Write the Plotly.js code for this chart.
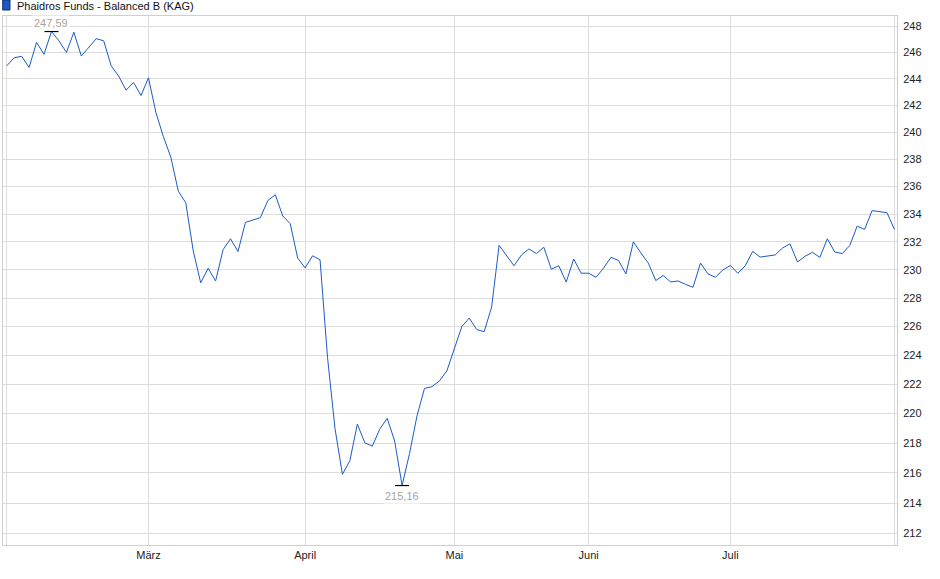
<!DOCTYPE html>
<html>
<head>
<meta charset="utf-8">
<script src="https://cdn.plot.ly/plotly-3.0.1.min.js"></script>
<style>
  html, body { margin: 0; padding: 0; background: #fff; }
  #chart { width: 940px; height: 579px; }
</style>
</head>
<body>
<div id="chart"></div>
<script>
// ---- data ----
const seriesName = "Phaidros Funds - Balanced B (KAG)";
const prices = [
  244.98, 245.59, 245.70, 244.86, 246.76, 245.85, 247.59, 246.88, 246.00, 247.53,
  245.72, 246.35, 247.04, 246.88, 244.98, 244.20, 243.14, 243.72, 242.74, 244.07,
  241.46, 239.67, 238.15, 235.66, 234.82, 231.36, 229.08, 230.11, 229.21, 231.44,
  232.22, 231.30, 233.40, 233.57, 233.74, 234.98, 235.40, 233.86, 233.31, 230.84,
  230.14, 231.00, 230.71, 223.86, 219.00, 215.91, 216.82, 219.29, 218.02, 217.80,
  218.94, 219.68, 218.14, 215.16, 217.31, 219.85, 221.72, 221.84, 222.23, 222.92,
  224.41, 226.00, 226.59, 225.79, 225.64, 227.37, 231.75, 231.01, 230.29, 231.06,
  231.49, 231.16, 231.61, 230.05, 230.29, 229.13, 230.77, 229.76, 229.76, 229.47,
  230.12, 230.89, 230.67, 229.71, 232.00, 231.21, 230.48, 229.24, 229.60, 229.14,
  229.21, 228.97, 228.76, 230.48, 229.71, 229.47, 230.00, 230.31, 229.76, 230.29,
  231.32, 230.91, 230.96, 231.06, 231.56, 231.85, 230.56, 230.96, 231.25, 230.89,
  232.22, 231.27, 231.16, 231.73, 233.13, 232.89, 234.25, 234.18, 234.10, 232.89
];
// index of the first trading day of each month (x grid positions)
const monthTickIdx = [0, 19, 40, 60, 78, 97, 119];
const monthTickText = ["", "März", "April", "Mai", "Juni", "Juli", ""];
const yTickVals = [212, 214, 216, 218, 220, 222, 224, 226, 228, 230, 232, 234, 236, 238, 240, 242, 244, 246, 248];

// ---- derived ----
const xs = prices.map((_, i) => i);
let iMax = 0, iMin = 0;
prices.forEach((v, i) => { if (v > prices[iMax]) iMax = i; if (v < prices[iMin]) iMin = i; });
const fmt = v => v.toFixed(2).replace('.', ',');

const lineColor = '#1c5bc6';
const gridColor = '#dcdcdc';
const fontFam = '"Liberation Sans", Arial, sans-serif';

const traces = [
  {
    x: xs, y: prices, type: 'scatter', mode: 'lines',
    line: { color: lineColor, width: 1 }, hoverinfo: 'skip', showlegend: false
  },
  {
    x: [iMax, iMin], y: [prices[iMax], prices[iMin]], type: 'scatter', mode: 'markers',
    marker: { symbol: 'line-ew', size: 10, color: '#000', line: { color: '#000', width: 1.2 } },
    hoverinfo: 'skip', showlegend: false
  }
];

const layout = {
  width: 940, height: 579,
  margin: { l: 3, r: 43, t: 16, b: 34, pad: 0 },
  paper_bgcolor: '#fff', plot_bgcolor: '#fff',
  font: { family: fontFam, size: 11, color: '#222' },
  showlegend: false,
  xaxis: {
    type: 'linear', range: [-0.5, 119.34],
    tickmode: 'array', tickvals: monthTickIdx, ticktext: monthTickText,
    showgrid: true, gridcolor: gridColor, gridwidth: 1,
    zeroline: false, showline: true, mirror: true, linecolor: '#cfcfcf', linewidth: 1,
    ticks: '', tickfont: { family: fontFam, size: 11, color: '#222' }
  },
  yaxis: {
    type: 'log', side: 'right',
    range: [Math.log10(211.24), Math.log10(248.78)],
    tickmode: 'array', tickvals: yTickVals, ticktext: yTickVals.map(String),
    showgrid: true, gridcolor: gridColor, gridwidth: 1,
    zeroline: false, showline: true, mirror: true, linecolor: '#cfcfcf', linewidth: 1,
    ticks: '', ticklabelstandoff: 3,
    tickfont: { family: fontFam, size: 11, color: '#222' }
  },
  shapes: [
    { type: 'rect', xref: 'paper', yref: 'paper',
      x0: -0.0003, x1: 0.0078, y0: 1.0113, y1: 1.0305,
      fillcolor: '#1c5bc6', line: { color: '#0d2f6e', width: 1 } }
  ],
  annotations: [
    { xref: 'paper', yref: 'paper', x: 0.0134, y: 1.0195, xanchor: 'left', yanchor: 'middle',
      text: seriesName, showarrow: false,
      font: { family: fontFam, size: 11, color: '#111' } },
    { x: iMax, y: Math.log10(prices[iMax]), xref: 'x', yref: 'y', text: fmt(prices[iMax]),
      showarrow: false, yanchor: 'bottom', yshift: 1, bgcolor: '#ffffff',
      font: { family: fontFam, size: 11, color: '#a9a49c' } },
    { x: iMin, y: Math.log10(prices[iMin]), xref: 'x', yref: 'y', text: fmt(prices[iMin]),
      showarrow: false, yanchor: 'top', yshift: -2, bgcolor: '#ffffff',
      font: { family: fontFam, size: 11, color: '#a9a49c' } }
  ]
};

Plotly.newPlot('chart', traces, layout, { staticPlot: true, displayModeBar: false });
</script>
</body>
</html>
